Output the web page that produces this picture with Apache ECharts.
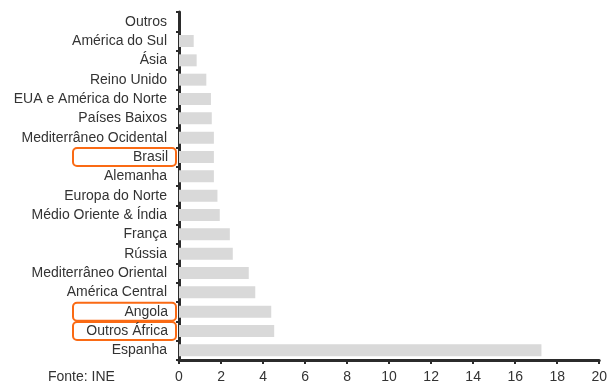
<!DOCTYPE html>
<html>
<head>
<meta charset="utf-8">
<script src="https://cdn.jsdelivr.net/npm/echarts@6/dist/echarts.min.js"></script>
<style>
  html, body { margin: 0; padding: 0; background: #fff; }
  #chart { width: 610px; height: 385px; }
</style>
</head>
<body>
<div id="chart"></div>
<script>
// categorias, de cima para baixo
const categories = [
    'Outros', 'América do Sul', 'Ásia', 'Reino Unido', 'EUA e América do Norte',
    'Países Baixos', 'Mediterrâneo Ocidental', 'Brasil', 'Alemanha', 'Europa do Norte',
    'Médio Oriente & Índia', 'França', 'Rússia', 'Mediterrâneo Oriental',
    'América Central', 'Angola', 'Outros África', 'Espanha'
]
const values = [
    0, 0.7, 0.84, 1.3, 1.52,
    1.56, 1.66, 1.66, 1.66, 1.83,
    1.94, 2.42, 2.56, 3.32,
    3.63, 4.39, 4.53, 17.25
]
// categorias destacadas com caixa laranja
const highlighted = ['Brasil', 'Angola', 'Outros África']
const xTicks = [0, 2, 4, 6, 8, 10, 12, 14, 16, 18, 20]

const font = '"Liberation Sans", Arial, sans-serif'
const textColor = '#333'
const axisColor = '#2b2b2b'
const orange = '#fa6a14'

const chart = echarts.init(document.getElementById('chart'), null, { renderer: 'canvas' })

chart.setOption({
    animation: false,
    title: {
        text: 'Fonte: INE',
        left: 48,
        top: 370,
        padding: 0,
        textStyle: { fontFamily: font, fontSize: 14, fontWeight: 'normal', color: textColor }
    },
    grid: { left: 179, right: 9, top: 12, bottom: 25 },
    xAxis: {
        type: 'value',
        min: xTicks[0],
        max: xTicks[xTicks.length - 1],
        interval: 2,
        axisLine: { show: true, lineStyle: { color: axisColor, width: 3 } },
        axisTick: { show: true, length: 4, lineStyle: { color: axisColor, width: 2 } },
        splitLine: { show: false },
        axisLabel: { margin: 10, fontFamily: font, fontSize: 14, color: textColor }
    },
    yAxis: {
        type: 'category',
        inverse: true,
        data: categories,
        axisLine: { show: true, lineStyle: { color: axisColor, width: 3 } },
        axisTick: { show: true, length: 3, lineStyle: { color: axisColor, width: 2 } },
        axisLabel: {
            margin: 3,
            fontFamily: font,
            fontSize: 14,
            color: textColor,
            formatter: v => highlighted.includes(v) ? '{hl|' + v + '}' : '{n|' + v + '}',
            rich: {
                n: { fontFamily: font, fontSize: 14, color: textColor, lineHeight: 16, padding: [2, 9, 2, 5] },
                hl: {
                    fontFamily: font, fontSize: 14, color: textColor, lineHeight: 16,
                    padding: [2, 8, 2, 5], width: 90, align: 'right',
                    borderColor: orange, borderWidth: 2, borderRadius: 4
                }
            }
        }
    },
    series: [{
        type: 'bar',
        data: values,
        barCategoryGap: '38%',
        itemStyle: { color: '#d9d9d9' }
    }]
})
</script>
</body>
</html>
